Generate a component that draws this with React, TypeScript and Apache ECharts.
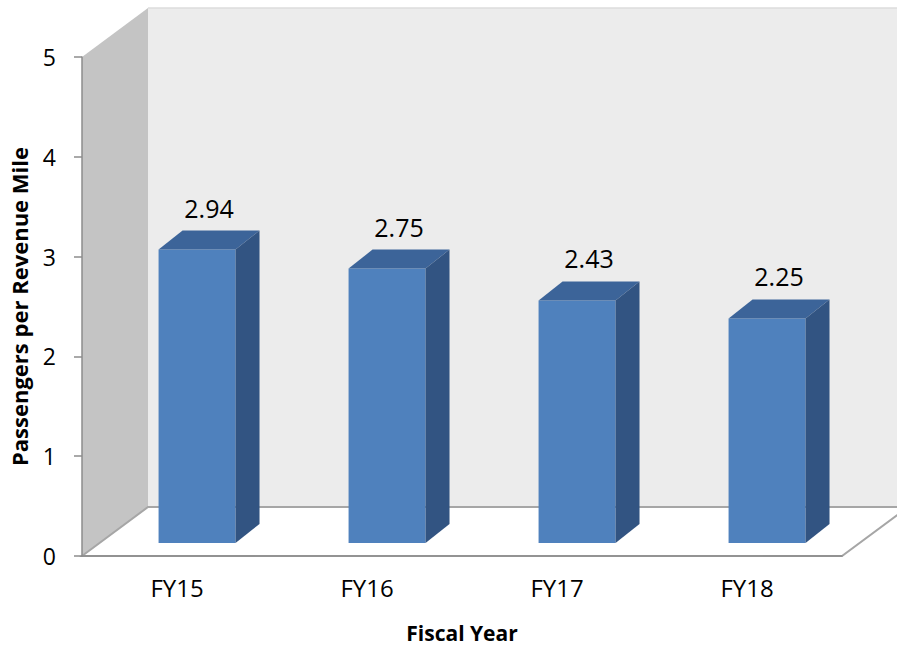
import React, { useEffect, useRef } from "react";
import * as echarts from "echarts";

const categories = ["FY15", "FY16", "FY17", "FY18"];
const values = [2.94, 2.75, 2.43, 2.25];
const yMin = 0;
const yMax = 5;
const yInterval = 1;

const FONT = '"Open Sans", "Noto Sans", sans-serif';
const DEPTH_X = 66;
const DEPTH_Y = -49;

export default function App() {
  const ref = useRef<HTMLDivElement>(null);
  useEffect(() => {
    if (!ref.current) return;
    const chart = echarts.init(ref.current, undefined, { renderer: "svg" });

    const wallsRender = (params: any) => {
      const cs = params.coordSys;
      const x0 = cs.x;
      const y0 = cs.y;
      const w = cs.width;
      const yb = cs.y + cs.height;
      return {
        type: "group",
        children: [
          {
            type: "rect",
            shape: { x: x0 + DEPTH_X, y: y0 + DEPTH_Y, width: w + 10, height: cs.height },
            style: { fill: "#ececec" },
          },
          {
            type: "line",
            shape: { x1: x0 + DEPTH_X, y1: y0 + DEPTH_Y, x2: x0 + w + DEPTH_X + 10, y2: y0 + DEPTH_Y },
            style: { stroke: "#dcdcdc", lineWidth: 1.5 },
          },
          {
            type: "polygon",
            shape: {
              points: [
                [x0, y0],
                [x0 + DEPTH_X, y0 + DEPTH_Y],
                [x0 + DEPTH_X, yb + DEPTH_Y],
                [x0, yb],
              ],
            },
            style: { fill: "#c4c4c4" },
          },
          {
            type: "polygon",
            shape: {
              points: [
                [x0, yb],
                [x0 + DEPTH_X, yb + DEPTH_Y],
                [x0 + w + DEPTH_X, yb + DEPTH_Y],
                [x0 + w, yb],
              ],
            },
            style: { fill: "#ffffff", stroke: "#a6a6a6", lineWidth: 2 },
          },
        ],
      };
    };

    const barsRender = (params: any, api: any) => {
      const i = api.value(0);
      const v = api.value(1);
      const base = api.coord([i, 0]);
      const top = api.coord([i, v]);
      const band = api.size([1, 0])[0];
      const fl = base[0] - band * 0.097;
      const fr = fl + band * 0.405;
      const fb = base[1] - 13;
      const ft = top[1] - 13;
      const dx = 24;
      const dy = -19;
      return {
        type: "group",
        children: [
          {
            type: "rect",
            shape: { x: fl, y: ft, width: fr - fl, height: fb - ft },
            style: { fill: "#4f81bd" },
          },
          {
            type: "polygon",
            shape: { points: [[fl, ft], [fl + dx, ft + dy], [fr + dx, ft + dy], [fr, ft]] },
            style: { fill: "#3c6499" },
          },
          {
            type: "polygon",
            shape: { points: [[fr, ft], [fr + dx, ft + dy], [fr + dx, fb + dy], [fr, fb]] },
            style: { fill: "#325482" },
          },
          {
            type: "text",
            style: {
              text: v.toFixed(2),
              x: (fl + fr) / 2 + 12,
              y: ft - 42,
              align: "center",
              verticalAlign: "middle",
              fontSize: 25,
              fontFamily: FONT,
              fill: "#000000",
            },
          },
        ],
      };
    };

    chart.setOption({
      animation: false,
      backgroundColor: "#ffffff",
      grid: { left: 81, top: 57, width: 761, height: 500 },
      xAxis: {
        type: "category",
        data: categories,
        z: 10,
        axisLine: { lineStyle: { color: "#8c8c8c", width: 1.5 } },
        axisTick: { length: 7, lineStyle: { color: "#8c8c8c", width: 1.5 } },
        axisLabel: { color: "#000", fontSize: 24, fontFamily: FONT, margin: 19 },
        name: "Fiscal Year",
        nameLocation: "middle",
        nameGap: 66,
        nameTextStyle: { color: "#000", fontSize: 21, fontWeight: "bold", fontFamily: FONT },
        splitLine: { show: false },
      },
      yAxis: {
        type: "value",
        min: yMin,
        max: yMax,
        interval: yInterval,
        z: 10,
        axisLine: { show: true, lineStyle: { color: "#8c8c8c", width: 1.5 } },
        axisTick: { show: true, length: 8, lineStyle: { color: "#8c8c8c", width: 1.5 } },
        axisLabel: { color: "#000", fontSize: 23, fontFamily: FONT, margin: 26 },
        splitLine: { show: false },
        name: "Passengers per Revenue Mile",
        nameLocation: "middle",
        nameRotate: 90,
        nameGap: 52,
        nameTextStyle: { color: "#000", fontSize: 22, fontWeight: "bold", fontFamily: FONT },
      },
      series: [
        {
          type: "custom",
          z: 1,
          silent: true,
          renderItem: wallsRender,
          data: [[0, 0]],
          encode: { x: 0, y: 1 },
        },
        {
          type: "custom",
          z: 3,
          silent: true,
          renderItem: barsRender,
          data: categories.map((c, i) => [i, values[i]]),
          encode: { x: 0, y: 1 },
        },
      ],
    });
    return () => chart.dispose();
  }, []);
  return (
    <div
      ref={ref}
      style={{ position: "fixed", left: 0, top: 0, width: 897, height: 648 }}
    />
  );
}
